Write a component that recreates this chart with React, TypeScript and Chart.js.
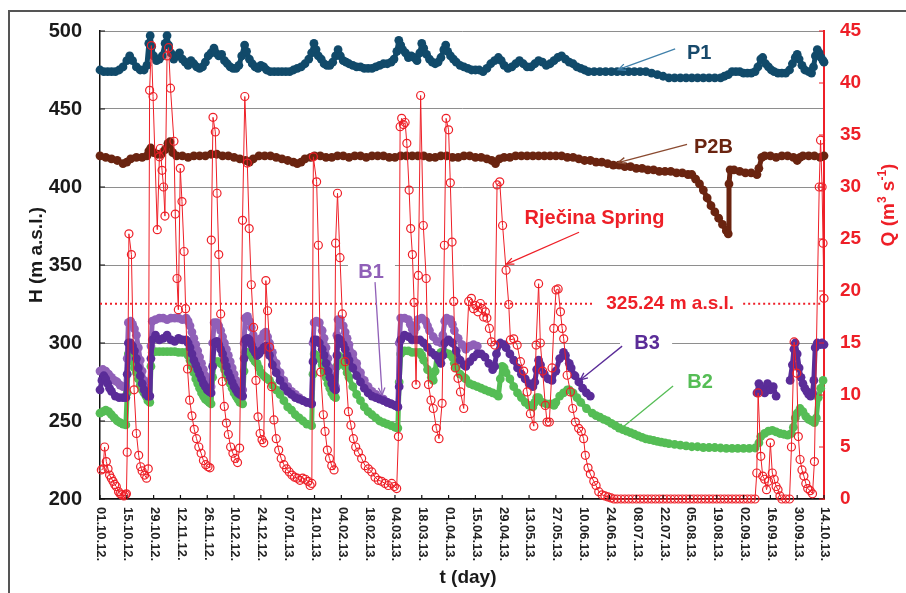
import React, { useEffect, useRef } from 'react';
import { Chart, registerables } from 'chart.js';

Chart.register(...registerables);

const FONT = '"Liberation Sans", Arial, Helvetica, sans-serif';
const RED = '#ee1f27';
const C_P1 = '#114a6a';
const C_P2B = '#6a2410';
const C_B1 = '#9060b8';
const C_B3 = '#5a2c98';
const C_B2 = '#55bd55';

// x axis: days since 01.10.12, tick every 14 days
const xTickLabels = [
  '01.10.12.', '15.10.12.', '29.10.12.', '12.11.12.', '26.11.12.', '10.12.12.', '24.12.12.',
  '07.01.13.', '21.01.13.', '04.02.13.', '18.02.13.', '04.03.13.', '18.03.13.', '01.04.13.',
  '15.04.13.', '29.04.13.', '13.05.13.', '27.05.13.', '10.06.13.', '24.06.13.', '08.07.13.',
  '22.07.13.', '05.08.13.', '19.08.13.', '02.09.13.', '16.09.13.', '30.09.13.', '14.10.13.',
];
const tickStepDays = 14;
const hTicks = [200, 250, 300, 350, 400, 450, 500];
const qTicks = [0, 5, 10, 15, 20, 25, 30, 35, 40, 45];
const refLevel = 325.24;

// [day, H (m a.s.l.)]
const p1Data = [
  [0,475],[2,474],[4,474],[6,474],[8,474],[10,475],[12,477],[14,481],[15.5,484],[17,481],[19,477],[21,475],[23,475],[24.5,478],[25.5,492],[26.2,497],[27,490],[28,484],[29.5,481],[31,482],[32.5,484],[34,492],[35,497],[35.8,491],[37,486],[38.5,482],[40,484],[41.5,486],[43,482],[44.5,480],[46,478],[47.5,481],[49,479],[50.5,477],[52,476],[53.5,477],[55,480],[56.5,484],[58,486],[59.5,489],[60.5,486],[62,484],[63.5,485],[65,481],[66.5,479],[68,477],[69.5,476],[71,476],[72.5,478],[74,484],[75.5,491],[76.5,487],[78,482],[79.5,479],[81,477],[82.5,476],[84,478],[85.5,477],[87,475],[89,474],[91,474],[93,474],[95,474],[97,474],[99,474],[101,475],[103,476],[105,477],[107,479],[109,482],[110.5,486],[111.7,492],[112.8,488],[114,484],[115.5,482],[117,479],[118.5,478],[120,478],[121.5,480],[123,484],[124.3,488],[125.5,484],[127,481],[128.5,480],[130,479],[132,478],[134,477],[136,477],[138,476],[140,476],[142,476],[144,477],[146,478],[148,479],[150,479],[152,480],[153.5,482],[155,487],[156,494],[157,491],[158,488],[159.5,486],[161,483],[162.5,484],[164,483],[165.5,481],[167,486],[168,492],[169,489],[170.5,485],[172,482],[173.5,480],[175,479],[176.5,480],[178,483],[179.5,488],[180.5,491],[181.5,487],[183,484],[184.5,482],[186,480],[188,478],[190,477],[192,476],[194,475],[196,475],[198,475],[200,474],[202,476],[204,479],[206,481],[208,483],[209.5,481],[211,478],[213,476],[215,477],[217,479],[219,481],[221,479],[223,477],[225,477],[227,479],[229,481],[231,480],[233,478],[235,479],[237,481],[239,483],[241,484],[243,482],[245,480],[247,479],[249,477],[251,476],[253,475],[255,474],[258,474],[261,474],[264,474],[267,474],[270,474],[273,474],[276,474],[279,474],[282,474],[285,474],[288,473],[291,472],[294,471],[297,470],[300,470],[303,470],[306,470],[309,470],[312,470],[315,470],[318,470],[321,470],[324,470],[326,471],[328,472],[330,474],[332,474],[334,474],[336,473],[338,473],[340,473],[342,474],[343.5,477],[345,482],[346,483],[347.5,479],[349,477],[350.5,475],[352,474],[354,473],[356,473],[358,473],[360,475],[361.5,479],[363,483],[364,485],[365,482],[366.5,478],[368,475],[370,474],[371.5,473],[372.5,477],[373.5,484],[374.5,488],[375.5,486],[376.5,483],[377.5,481],[378,480],
];

const p2bData = [
  [0,420],[3,419],[6,418],[9,417],[12,415],[14,416],[16,418],[19,419],[22,419],[24.5,420],[25.5,423],[26.5,425],[28,422],[30,421],[32,421],[34,424],[35.5,428],[36.5,429],[38,422],[40,420],[43,420],[46,419],[49,420],[52,420],[55,420],[58,421],[61,421],[64,420],[67,420],[70,419],[73,418],[76,417],[78,416],[80,418],[83,420],[86,420],[89,420],[92,419],[95,418],[98,417],[101,416],[103,415],[105,416],[107,418],[110,419],[112,420],[115,420],[118,419],[121,419],[124,420],[127,420],[130,419],[133,420],[136,420],[139,419],[142,420],[145,420],[148,420],[151,419],[154,419],[157,420],[160,420],[163,420],[166,420],[169,420],[172,419],[175,419],[178,420],[181,420],[184,419],[187,419],[190,420],[193,420],[196,419],[199,419],[202,418],[204.5,417],[206.5,415],[208.5,418],[211,419],[214,419],[217,420],[220,420],[223,420],[226,420],[229,420],[232,420],[235,420],[238,420],[241,420],[244,419],[247,419],[250,418],[253,417],[256,417],[259,416],[262,416],[265,415],[268,414],[271,414],[274,413],[277,413],[280,412],[283,412],[286,411],[289,411],[292,410],[295,410],[298,410],[301,409],[304,409],[307,408],[309,408],[311,405],[313,402],[315,398],[317,393],[319,388],[321,384],[323,380],[325,376],[327,372],[328,370],[328.4,402],[329,411],[331,411],[334,410],[337,409],[340,409],[343,408],[344,412],[345.5,419],[347,420],[350,420],[353,419],[356,420],[359,420],[362,419],[364,417],[365.5,419],[367,420],[370,420],[373,420],[376,419],[378,420],
];

const b1Data = [
  [0,282],[1.5,283],[3,282],[4.5,280],[6,278],[7.5,276],[9,275],[10.5,273],[12,272],[13.5,272],[14.2,290],[14.8,313],[16,314],[17,312],[18,309],[19,305],[20,297],[21,289],[22,282],[23,276],[24,271],[25,268],[26,266],[26.6,298],[27.3,314],[29,315],[31,316],[33,316],[35,315],[37,316],[39,316],[41,316],[43,315],[45,316],[46,314],[47,311],[48,307],[49,303],[50,299],[51,295],[52,291],[53,287],[54,283],[55,279],[56,276],[57,273],[58,272],[58.8,300],[59.6,313],[61,313],[62,311],[63,308],[64,304],[65,300],[66,296],[67,292],[68,288],[69,284],[70,280],[71,276],[72,273],[73,271],[74.5,270],[75.2,300],[75.8,316],[77,317],[78,314],[79,310],[80,305],[81,301],[82,299],[83,300],[84,303],[85.5,306],[86.5,307],[87.5,304],[88.5,300],[90,294],[92,287],[94,281],[96,276],[98,272],[100,269],[102,267],[104,265],[106,263],[108,262],[110.5,261],[111.2,300],[111.8,313],[113,314],[114.5,313],[116,308],[117,303],[118,297],[119,290],[120,284],[121,278],[122,274],[123,272],[123.7,305],[124.3,315],[125.5,315],[127,311],[128,307],[129,303],[130,299],[132,293],[134,287],[136,281],[138,276],[140,272],[142,269],[144,267],[146,265],[148,264],[150,262],[152,261],[154,260],[155.5,259],[156.2,300],[157,316],[159,316],[161,315],[162,312],[163,309],[164,307],[165,310],[166,315],[168,316],[170,314],[171,311],[172,308],[174,304],[176,301],[178,300],[179,305],[180,314],[181,316],[183,315],[184,312],[185,308],[187,303],[189,299],[191,296],[193,298],[195,299],[197,298],
];

const b3Data = [
  [0,270],[1,276],[2,279],[3,277],[4,274],[5,271],[6,269],[8,266],[10,265],[12,265],[13.5,265],[14.2,280],[14.8,300],[16,300],[17,298],[18,295],[19,290],[20,284],[21,279],[22,274],[23,270],[24,267],[25,266],[26,266],[26.6,290],[27.3,302],[29,305],[31,302],[33,303],[35,305],[37,302],[39,301],[41,303],[43,302],[45,302],[46,300],[47,297],[48,293],[49,289],[50,286],[51,283],[52,280],[53,277],[54,274],[55,272],[56,270],[57,269],[58,268],[58.8,285],[59.6,300],[61,301],[62,299],[63,296],[64,293],[65,289],[66,285],[67,281],[68,278],[69,275],[70,272],[71,270],[72,268],[73,267],[74.5,266],[75.2,290],[75.8,302],[77,303],[78,302],[79,299],[80,296],[81,294],[82,292],[83,293],[84,295],[85.5,297],[86.5,298],[87.5,295],[88.5,292],[90,286],[92,281],[94,276],[96,272],[98,269],[100,267],[102,265],[104,264],[106,263],[108,262],[110.5,261],[111.2,288],[111.8,302],[113,302],[114.5,300],[116,296],[117,292],[118,287],[119,282],[120,278],[121,274],[122,271],[123,270],[123.7,292],[124.3,303],[125.5,302],[127,299],[128,296],[129,292],[130,289],[132,284],[134,279],[136,275],[138,271],[140,268],[142,266],[144,265],[146,264],[148,263],[150,262],[152,261],[154,260],[155.5,259],[156.2,272],[157,302],[159,305],[161,304],[163,302],[165,302],[167,302],[169,300],[171,297],[173,294],[175,292],[177,289],[178,287],[179,292],[180,300],[182,302],[184,300],[186,295],[188,289],[190,286],[191,285],[193,288],[195,291],[197,293],[199,293],[201,291],[203,287],[205,283],[206,285],[207,293],[209,300],[211,299],[212,297],[214,293],[216,289],[218,284],[220,280],[222,277],[224,274],[226,272],[227,275],[228,283],[229,289],[230,286],[232,280],[234,277],[236,276],[238,282],[240,290],[242,294],[243,292],[245,287],[246,284],[248,279],[250,275],[252,271],[254,268],[256,266],[257,null],[343,268],[344,274],[345.5,271],[347,268],[348.5,274],[350,270],[351.5,272],[353,266],[354,null],[360.3,276],[361.5,286],[362.3,296],[363,300],[364,293],[365,284],[366,278],[367,274],[368,271],[369,269],[370,267],[371,266],[372,268],[372.7,276],[373.4,297],[374.5,300],[376,299],[377,300],[378,299],
];

const b2Data = [
  [0,255],[1.5,256],[3,257],[4.5,256],[6,254],[7.5,252],[9,250],[10.5,249],[12,248],[13.5,247.5],[14.2,268],[14.8,293],[16,292],[17,288],[18,284],[19,281],[20,277],[21,273],[22,270],[23,268],[24,266],[25,263],[26,262],[26.6,285],[27.3,294],[29,294.5],[31,294.5],[33,294.5],[35,294.5],[37,294.5],[39,294.5],[41,294],[43,294],[45,294],[46,292],[47,289],[48,285],[49,281],[50,277],[51,274],[52,271],[53,268],[54,266],[55,264],[56,263],[57,262],[58,261],[58.8,278],[59.6,288],[61,288],[62,288],[63,287],[64,286],[65,283],[66,280],[67,277],[68,274],[69,271],[70,268],[71,266],[72,264],[73,262],[74.5,261],[75.2,282],[75.8,294],[77,294],[78,294],[79,292],[80,290],[81,288],[82,287],[83,284],[84,281],[85.5,279],[86.5,278],[87.5,277],[88.5,276],[90,273],[92,270],[94,267],[96,263],[98,259],[100,257],[102,254],[104,252],[106,250],[108,248],[110.5,247],[111.2,280],[111.8,293],[113,292],[114.5,290],[116,286],[117,282],[118,278],[119,274],[120,271],[121,268],[122,266],[123,265],[123.7,285],[124.3,292],[125.5,291],[127,288],[128,285],[129,281],[130,278],[132,272],[134,267],[136,263],[138,259],[140,256],[142,254],[144,252],[146,250],[148,249],[150,248],[152,247],[154,246],[155.5,245.5],[156.2,275],[157,293],[159,295],[161,295],[163,294],[165,294],[167,294],[168,292],[169,289],[171,283],[173,278],[174,276],[175,282],[176,292],[178,294],[180,294],[182,293],[184,291],[185,287],[186,284],[188,280],[190,278],[191,277],[193,274],[195,273],[197,272],[199,271],[201,270],[203,269],[205,268],[207,267],[208,266],[209,277],[210,285],[211,284],[212,281],[214,277],[216,272],[218,268],[220,265],[222,262],[224,260],[226,259],[227,262],[228,265],[229,265],[231,262],[233,261],[235,261],[237,260],[238,262],[240,266],[242,268],[244,270],[245,270],[247,268],[249,265],[251,262],[254,258],[257,255],[259,253.5],[261,252.5],[263,251],[265,250],[267,248.5],[269,247],[271,245.5],[273,244.5],[275,243.5],[277,242.5],[279,241.5],[281,240.5],[283,239.5],[285,238.5],[287,238],[289,237.5],[291,237],[293,236.5],[295,236],[297,235.5],[300,235],[303,234.5],[306,234],[309,233.5],[312,233.5],[315,233],[318,233],[321,233],[324,232.7],[327,232.5],[330,232.5],[333,232.5],[336,232.5],[339,232.5],[342,232.7],[344,236],[345,240],[347,242],[349,243.5],[351,244],[353,243],[355,242],[357,241.5],[359,241],[361,242],[362,246],[363,252],[364,255],[365.5,258],[367,256],[368.5,253],[370,251],[371.5,250],[373,249],[374,252],[375,265],[376.3,271],[377.5,276],
];

// [day, Q (m3/s)] Rječina Spring discharge
const qData = [
  [0.7,2.8],[1.6,2.9],[2.4,5.0],[3.3,3.6],[4.2,2.9],[5.0,2.3],[5.9,2.0],[6.8,1.7],[7.7,1.4],[8.5,1.2],[9.7,0.7],[10.5,0.5],[11.3,0.4],[12.5,0.3],[13.3,0.4],[13.8,0.5],[14.2,4.5],[15.1,25.5],[16.4,23.5],[17.8,10.5],[19.0,6.3],[20.2,4.2],[21.2,3.1],[22.0,2.7],[23.3,2.3],[24.3,2.0],[25.2,2.9],[25.9,39.3],[26.8,43.6],[27.7,38.7],[29.9,25.9],[31.0,32.9],[31.5,33.7],[32.4,31.6],[33.2,30.0],[33.9,27.2],[35.0,42.6],[35.8,43.4],[36.8,39.5],[38.6,34.4],[39.3,27.4],[40.2,21.2],[40.9,18.2],[41.9,31.8],[42.8,28.6],[43.9,23.8],[44.7,18.3],[45.7,12.5],[46.8,9.5],[48.0,8.0],[49.2,6.7],[50.4,5.8],[51.6,5.0],[52.8,4.4],[54.0,3.7],[55.2,3.3],[56.4,3.1],[57.4,3.0],[58.1,24.9],[59.0,36.7],[60.2,35.3],[61.1,29.4],[62.0,23.5],[63.0,17.8],[63.9,11.3],[64.9,8.9],[66.0,7.3],[67.0,6.2],[68.2,5.0],[69.4,4.4],[70.6,3.9],[71.8,3.5],[72.9,4.9],[74.4,26.8],[75.6,38.7],[76.9,32.3],[77.9,26.0],[79.0,20.6],[80.2,16.5],[81.4,11.4],[82.5,7.9],[83.6,6.3],[84.6,5.7],[85.5,5.4],[86.6,21.0],[87.5,18.1],[88.6,14.6],[89.6,10.8],[90.8,7.6],[92.0,5.8],[93.3,4.7],[94.6,3.9],[96.0,3.3],[97.4,2.9],[98.8,2.6],[100.2,2.3],[101.6,2.1],[103.0,2.0],[104.4,1.8],[105.8,2.0],[107.2,1.9],[108.6,1.7],[109.7,1.3],[110.6,1.5],[111.4,32.9],[113.1,30.5],[114.0,24.4],[115.2,12.2],[116.6,8.1],[117.5,6.5],[118.7,4.7],[119.8,3.9],[121.0,3.2],[122.2,2.8],[123.0,24.6],[124.0,29.4],[125.3,23.2],[126.5,17.8],[128.0,13.2],[129.7,8.4],[131.0,7.1],[132.3,5.8],[133.5,5.0],[134.9,4.5],[136.6,3.9],[138.4,3.2],[140.1,2.9],[141.9,2.6],[143.6,2.1],[145.3,1.8],[147.0,1.7],[148.8,1.5],[150.5,1.3],[152.3,1.5],[153.7,1.2],[154.9,1.0],[155.8,6.0],[156.7,35.8],[157.5,36.6],[158.4,36.0],[159.3,36.2],[160.2,34.2],[161.4,29.7],[162.2,26.0],[163.1,23.5],[164.0,18.9],[165.0,11.0],[166.2,21.5],[167.4,38.8],[168.8,26.3],[170.3,21.2],[171.5,11.0],[172.8,9.5],[174.0,8.7],[175.6,6.8],[177.0,5.8],[178.6,9.2],[179.8,24.4],[180.7,36.6],[182.0,35.5],[182.9,30.4],[183.8,24.7],[184.7,19.0],[185.5,12.6],[186.9,11.6],[188.2,10.3],[189.9,8.7],[192.5,19.0],[193.9,19.3],[195.0,18.3],[196.2,18.6],[197.3,18.0],[198.6,18.8],[199.5,18.3],[200.3,17.5],[201.2,18.0],[202.0,17.4],[203.3,16.4],[204.4,15.1],[206.1,14.8],[207.3,30.2],[208.7,30.5],[210.2,26.3],[212.0,22.0],[213.4,18.7],[214.3,15.3],[216.0,15.4],[217.8,14.8],[219.5,13.2],[221.2,12.3],[223.0,10.3],[224.7,8.2],[226.5,7.0],[227.7,14.8],[229.0,20.7],[229.9,15.0],[231.1,12.3],[232.5,9.0],[233.4,7.4],[234.6,7.4],[236.0,12.6],[236.9,16.4],[238.1,20.1],[239.2,20.2],[240.4,18.0],[241.3,16.4],[242.1,15.4],[243.9,11.9],[245.6,10.3],[246.8,8.7],[248.2,7.4],[249.9,6.8],[251.3,6.5],[252.5,5.8],[253.4,4.2],[254.8,3.0],[256.0,2.4],[257.8,1.7],[259.0,1.3],[260.4,0.7],[262.1,0.4],[263.6,0.3],[265.2,0.2],[266.8,0.1],[268.4,0],[270,0],[272,0],[274,0],[276,0],[278,0],[280,0],[282,0],[284,0],[286,0],[288,0],[290,0],[292,0],[294,0],[296,0],[298,0],[300,0],[302,0],[304,0],[306,0],[308,0],[310,0],[312,0],[314,0],[316,0],[318,0],[320,0],[322,0],[324,0],[326,0],[328,0],[330,0],[332,0],[334,0],[336,0],[338,0],[340,0],[342,0],[342.9,2.5],[343.6,10.2],[345.0,4.1],[346.0,2.2],[347.0,1.9],[348.0,0.9],[349.0,1.7],[350.0,5.4],[351.0,2.5],[352.0,1.9],[353.0,1.2],[354.0,0.9],[355.0,0.3],[356,0],[358,0],[360,0],[361.0,5.0],[362.4,15.1],[363.8,12.1],[364.6,6.0],[365.5,3.8],[366.5,2.8],[367.5,2.2],[368.5,1.5],[369.5,1.0],[370.8,0.8],[372.0,0.5],[373.0,3.6],[375.5,30.0],[376.2,34.5],[377.0,30.0],[377.5,24.6],[378.0,19.3],
];

const toPts = (arr: any[]) => arr.map(([x, y]) => ({ x, y }));

function drawArrow(ctx: CanvasRenderingContext2D, x1: number, y1: number, x2: number, y2: number, color: string) {
  ctx.strokeStyle = color;
  ctx.lineWidth = 1.3;
  ctx.beginPath();
  ctx.moveTo(x1, y1);
  ctx.lineTo(x2, y2);
  ctx.stroke();
  const a = Math.atan2(y2 - y1, x2 - x1);
  const h = 8;
  ctx.beginPath();
  ctx.moveTo(x2 - h * Math.cos(a - 0.42), y2 - h * Math.sin(a - 0.42));
  ctx.lineTo(x2, y2);
  ctx.lineTo(x2 - h * Math.cos(a + 0.42), y2 - h * Math.sin(a + 0.42));
  ctx.stroke();
}

export default function App() {
  const ref = useRef<HTMLCanvasElement>(null);

  useEffect(() => {
    if (!ref.current) return;

    const notes = [
      { text: 'P1', color: '#17496b', at: [312.8, 485.9], from: [300.3, 488.5], to: [270.5, 475.2], ac: '#4080aa' },
      { text: 'P2B', color: C_P2B, at: [320.3, 425.6], from: [306.5, 427.4], to: [270.5, 415.6], ac: '#8a4a30' },
      { text: 'Rječina Spring', color: RED, at: [258.2, 380.1], from: [250.1, 371.0], to: [212.2, 350.6], ac: RED },
      { text: 'B1', color: C_B1, at: [141.5, 345.5], from: [143.6, 339.0], to: [147.3, 266.7], ac: C_B1 },
      { text: 'B3', color: C_B3, at: [285.6, 299.4], from: [272.6, 298.0], to: [250.7, 276.3], ac: C_B3 },
      { text: 'B2', color: C_B2, at: [313.3, 274.4], from: [299.2, 272.4], to: [270.5, 243.6], ac: C_B2 },
    ];

    const deco = {
      id: 'deco',
      beforeDatasetsDraw(chart: any) {
        const { ctx, chartArea: ca, scales } = chart;
        const xs = scales.x, ys = scales.y;
        ctx.save();
        // gaps in gridlines behind B1 and B3 labels
        ctx.fillStyle = '#ffffff';
        ctx.fillRect(xs.getPixelForValue(129.5), ys.getPixelForValue(350) - 2, xs.getPixelForValue(154) - xs.getPixelForValue(129.5), 4);
        ctx.fillRect(xs.getPixelForValue(271.5), ys.getPixelForValue(300) - 2, xs.getPixelForValue(298.7) - xs.getPixelForValue(271.5), 4);
        // dotted reference level
        const yd = ys.getPixelForValue(refLevel);
        ctx.strokeStyle = RED;
        ctx.lineWidth = 2;
        ctx.setLineDash([2, 3]);
        ctx.beginPath();
        ctx.moveTo(ca.left, yd);
        ctx.lineTo(xs.getPixelForValue(257.4), yd);
        ctx.moveTo(xs.getPixelForValue(335.8), yd);
        ctx.lineTo(ca.right, yd);
        ctx.stroke();
        ctx.setLineDash([]);
        ctx.restore();
      },
      afterDraw(chart: any) {
        const { ctx, chartArea: ca, scales } = chart;
        const xs = scales.x, ys = scales.y, yq = scales.y1;
        const px = (d: number) => xs.getPixelForValue(d);
        const py = (h: number) => ys.getPixelForValue(h);
        ctx.save();
        // inward tick marks
        ctx.lineWidth = 1.2;
        ctx.strokeStyle = '#111';
        ctx.beginPath();
        hTicks.forEach((v) => { const y = py(v); ctx.moveTo(ca.left, y); ctx.lineTo(ca.left + 5, y); });
        xTickLabels.forEach((_, i) => { const x = px(i * tickStepDays); ctx.moveTo(x, ca.bottom); ctx.lineTo(x, ca.bottom - 4); });
        ctx.stroke();
        ctx.strokeStyle = RED;
        ctx.beginPath();
        qTicks.forEach((v) => { const y = yq.getPixelForValue(v); ctx.moveTo(ca.right, y); ctx.lineTo(ca.right - 5, y); });
        ctx.stroke();

        // x tick labels rotated clockwise
        ctx.fillStyle = '#222';
        ctx.font = `bold 13px ${FONT}`;
        ctx.textAlign = 'left';
        ctx.textBaseline = 'middle';
        xTickLabels.forEach((lab, i) => {
          const x = px(i * tickStepDays);
          ctx.save();
          ctx.translate(x + 1, ca.bottom + 8);
          ctx.rotate(Math.PI / 2);
          ctx.fillText(lab, 0, 0);
          ctx.restore();
        });

        // axis titles
        ctx.fillStyle = '#1a1a1a';
        ctx.font = `bold 19px ${FONT}`;
        ctx.textAlign = 'center';
        ctx.textBaseline = 'middle';
        ctx.fillText('t (day)', 468, 578);
        ctx.save();
        ctx.translate(37, 255);
        ctx.rotate(-Math.PI / 2);
        ctx.font = `bold 19px ${FONT}`;
        ctx.fillText('H (m a.s.l.)', 0, 0);
        ctx.restore();

        // Q title with superscripts
        ctx.save();
        ctx.translate(889, 205);
        ctx.rotate(-Math.PI / 2);
        ctx.fillStyle = RED;
        ctx.textAlign = 'left';
        const parts: [string, boolean][] = [['Q (m', false], ['3', true], [' s', false], ['-1', true], [')', false]];
        const big = `bold 19px ${FONT}`, small = `bold 12px ${FONT}`;
        let total = 0;
        parts.forEach(([t, sup]) => { ctx.font = sup ? small : big; total += ctx.measureText(t).width; });
        let cx = -total / 2;
        parts.forEach(([t, sup]) => {
          ctx.font = sup ? small : big;
          ctx.fillText(t, cx, sup ? -6 : 0);
          cx += ctx.measureText(t).width;
        });
        ctx.restore();

        // annotations
        notes.forEach((n) => {
          drawArrow(ctx, px(n.from[0]), py(n.from[1]), px(n.to[0]), py(n.to[1]), n.ac);
          ctx.fillStyle = n.color;
          ctx.font = `bold 20px ${FONT}`;
          ctx.textAlign = 'center';
          ctx.textBaseline = 'middle';
          ctx.fillText(n.text, px(n.at[0]), py(n.at[1]));
        });
        ctx.fillStyle = RED;
        ctx.font = `bold 19px ${FONT}`;
        ctx.fillText('325.24 m a.s.l.', px(297.7), py(refLevel));

        // outer frame
        ctx.strokeStyle = '#555';
        ctx.lineWidth = 2;
        ctx.beginPath();
        ctx.moveTo(9, 593);
        ctx.lineTo(9, 11);
        ctx.lineTo(906, 11);
        ctx.stroke();
        ctx.restore();
      },
    };

    const hSeries = (label: string, data: any[], color: string) => ({
      label,
      data: toPts(data),
      yAxisID: 'y',
      borderColor: color,
      backgroundColor: color,
      borderWidth: 5,
      borderJoinStyle: 'round',
      borderCapStyle: 'round',
      pointRadius: 4.4,
      pointBorderWidth: 0,
      pointBackgroundColor: color,
      tension: 0,
      spanGaps: false,
      clip: false as any,
    });

    const chart = new Chart(ref.current, {
      type: 'line',
      data: {
        datasets: [
          {
            label: 'Rječina Spring',
            data: toPts(qData),
            yAxisID: 'y1',
            borderColor: RED,
            backgroundColor: 'rgba(255,255,255,0)',
            borderWidth: 1,
            pointRadius: 4,
            pointBorderWidth: 1.2,
            pointBorderColor: RED,
            pointBackgroundColor: 'rgba(255,255,255,0)',
            tension: 0,
            clip: false as any,
          },
          hSeries('B3', b3Data, C_B3),
          hSeries('B1', b1Data, C_B1),
          hSeries('B2', b2Data, C_B2),
          hSeries('P2B', p2bData, C_P2B),
          hSeries('P1', p1Data, C_P1),
        ] as any,
      },
      options: {
        animation: false,
        responsive: false,
        devicePixelRatio: 1,
        layout: { padding: { top: 31, left: 0, right: 0, bottom: 0 } },
        plugins: { legend: { display: false }, tooltip: { enabled: false } },
        events: [],
        scales: {
          x: {
            type: 'linear',
            min: 0,
            max: 378,
            ticks: { display: false, stepSize: tickStepDays },
            grid: { display: false, drawTicks: false },
            border: { display: true, color: '#111', width: 1.5 },
            afterFit: (s: any) => { s.height = 94; },
          },
          y: {
            position: 'left',
            min: 200,
            max: 500,
            ticks: { stepSize: 50, color: '#1a1a1a', padding: 18, font: { family: FONT, size: 20, weight: 'bold' } },
            grid: { color: '#8e8e8e', lineWidth: 1, drawTicks: false },
            border: { display: true, color: '#111', width: 1.5 },
            afterFit: (s: any) => { s.width = 100; },
          },
          y1: {
            position: 'right',
            min: 0,
            max: 45,
            ticks: { stepSize: 5, color: RED, padding: 16, font: { family: FONT, size: 19, weight: 'bold' } },
            grid: { display: false, drawTicks: false },
            border: { display: true, color: RED, width: 2 },
            afterFit: (s: any) => { s.width = 82; },
          },
        },
      } as any,
      plugins: [deco],
    });

    return () => chart.destroy();
  }, []);

  return (
    <div style={{ position: 'absolute', left: 0, top: 0, width: 906, height: 593, background: '#fff' }}>
      <canvas ref={ref} width={906} height={593} style={{ display: 'block', width: 906, height: 593 }} />
    </div>
  );
}
